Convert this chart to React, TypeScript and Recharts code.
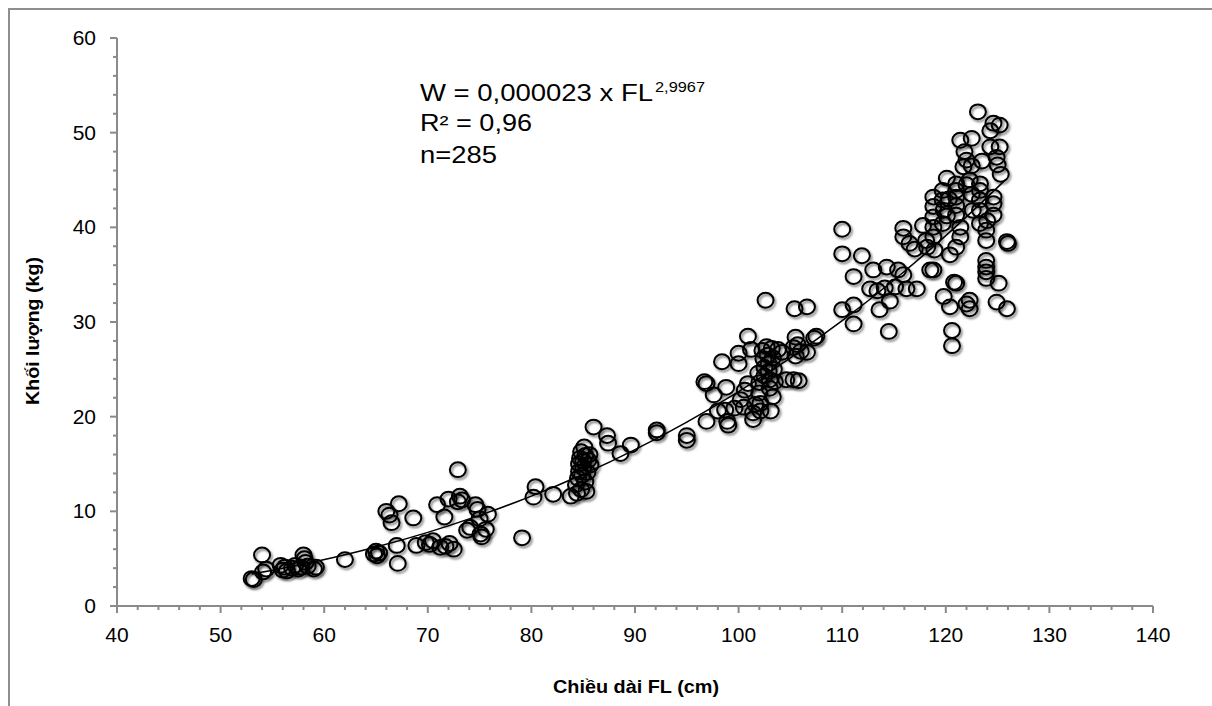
import { ComposedChart, Scatter, Line, XAxis, YAxis } from 'recharts'

// length FL (cm) and weight W (kg) of each fish
const FL = [
  53.0, 53.2, 54.0, 54.1, 54.4, 55.8, 56.0, 56.2, 56.4, 56.9, 57.2, 57.5, 57.8, 58.0, 58.1, 58.2, 58.4, 59.0, 59.2, 62.0,
  64.8, 65.0, 65.1, 65.3,
  66.0, 66.3, 66.5, 67.0, 67.1, 67.2, 68.6, 68.9, 69.8, 70.2, 70.5, 70.9, 71.2, 71.6, 71.7, 72.0, 72.1, 72.5, 72.9, 72.9,
  73.1, 73.3, 73.8, 74.1, 74.6, 74.8, 75.0, 75.1, 75.2, 75.6, 75.8, 79.1, 80.2, 80.4, 82.1,
  83.8, 84.3, 84.4, 84.5, 84.6, 84.6, 84.7, 84.8, 84.8, 84.9, 85.0, 85.0, 85.1, 85.2, 85.2, 85.3, 85.4, 85.5, 85.6, 85.7,
  86.0, 87.3, 87.4, 88.6, 89.6, 92.1, 92.1, 95.0, 95.0,
  96.7, 96.9, 96.9, 97.6, 98.0, 98.4, 98.8, 98.7, 98.9, 99.0, 99.6, 100.0, 100.0, 100.2, 100.5, 100.6, 100.9, 100.9,
  101.2, 101.4, 101.4, 101.6, 101.9, 102.0, 102.0, 102.1, 102.1, 102.3, 102.4, 102.5, 102.5, 102.6, 102.7, 102.8, 102.9,
  102.9, 103.0, 103.0, 103.1, 103.2, 103.3, 103.4, 103.5, 103.3, 103.8, 104.2, 104.6, 105.3, 105.8, 105.3, 105.5, 105.7,
  106.0, 106.6, 105.4, 106.6, 105.5, 107.3, 107.5,
  110.0, 110.0, 111.1, 111.9, 113.0, 114.3, 112.7, 113.4, 114.1, 115.4, 115.9, 115.1, 116.2, 117.2, 114.6, 113.6, 110.0,
  111.1, 111.1, 114.5, 115.9, 115.9, 116.5, 117.8, 118.1, 117.0, 118.2, 118.5,
  118.8, 118.8, 118.8, 118.8, 118.8, 118.9, 118.8, 119.7, 119.7, 119.8, 119.7, 120.1, 120.4, 120.8, 119.8, 120.4, 120.6,
  120.6, 121.0, 121.0, 121.0, 121.0, 121.0, 121.0, 121.0, 121.4, 121.4, 121.4, 121.7, 121.8, 122.0, 122.0, 122.3, 122.3,
  122.5, 122.3, 122.5, 122.6, 123.1, 123.3, 123.3, 123.3, 123.3, 123.3, 123.5, 123.9, 123.9, 123.9, 123.9, 123.9, 123.9,
  124.3, 124.3, 124.6, 124.6, 124.6, 124.9, 125.0, 124.9, 125.1, 125.2, 125.2, 125.3, 125.9, 126.0, 125.9, 120.1, 120.3,
  122.0, 122.5, 124.0, 124.6,
]
const W = [
  2.9, 2.8, 5.4, 3.6, 3.9, 4.3, 3.8, 4.1, 3.7, 4.0, 4.3, 3.9, 4.1, 5.4, 5.0, 4.6, 4.2, 3.9, 4.1, 4.9,
  5.5, 5.8, 5.3, 5.6,
  10.0, 9.6, 8.8, 6.4, 4.5, 10.8, 9.3, 6.4, 6.7, 6.5, 6.9, 10.7, 6.2, 9.4, 6.3, 11.3, 6.6, 6.0, 14.4, 11.0,
  11.6, 11.2, 8.0, 8.3, 10.7, 10.2, 9.2, 7.6, 7.3, 8.1, 9.7, 7.2, 11.5, 12.6, 11.8,
  11.6, 12.8, 11.9, 13.5, 14.2, 15.0, 15.6, 16.3, 12.3, 13.8, 14.6, 15.3, 16.8, 13.1, 15.9, 12.1, 14.1, 15.4, 16.0, 14.9,
  18.9, 18.0, 17.2, 16.1, 17.0, 18.6, 18.3, 18.0, 17.5,
  23.7, 23.5, 19.5, 22.3, 20.6, 25.8, 23.1, 20.7, 19.5, 19.1, 20.9, 26.7, 25.6, 21.8, 21.0, 22.8, 23.5, 28.5,
  27.1, 19.7, 20.4, 21.3, 24.6, 23.6, 22.5, 21.4, 20.6, 27.0, 26.1, 25.2, 24.3, 32.3, 27.4, 26.5, 25.6,
  24.8, 23.9, 23.0, 20.6, 27.2, 26.2, 25.0, 23.7, 22.1, 27.1, 26.8, 23.9, 23.9, 23.8, 27.3, 26.4, 27.6,
  26.9, 26.8, 31.4, 31.6, 28.4, 28.3, 28.5,
  39.8, 37.2, 34.8, 37.0, 35.5, 35.8, 33.5, 33.3, 33.6, 35.5, 35.0, 33.7, 33.5, 33.5, 32.2, 31.3, 31.3,
  31.8, 29.8, 29.0, 39.9, 39.0, 38.3, 40.2, 38.6, 37.7, 37.9, 35.5,
  43.2, 42.2, 41.1, 40.0, 39.0, 37.6, 35.5, 43.9, 42.9, 41.8, 40.4, 45.2, 37.1, 34.2, 32.7, 31.6, 29.1,
  27.5, 44.6, 43.9, 43.2, 42.3, 41.3, 37.9, 34.1, 49.2, 40.0, 39.0, 46.4, 48.0, 47.1, 31.9, 32.3, 31.4,
  49.4, 45.0, 43.5, 41.8, 52.2, 44.6, 43.9, 42.9, 41.8, 40.4, 47.0, 39.7, 38.6, 36.5, 35.8, 35.3, 34.6,
  50.2, 48.5, 51.0, 43.2, 42.5, 47.4, 46.6, 32.1, 34.1, 50.8, 48.5, 45.6, 38.5, 38.3, 31.4, 41.2, 43.0,
  44.5, 46.5, 40.7, 41.3,
]

// points along the power trend line
const TREND_FL = [53, 57, 61, 65, 70, 75, 80, 85, 90, 95, 100, 105, 110, 115, 120, 125.8]
const TREND_W = [3.38, 4.2, 5.15, 6.23, 7.78, 9.57, 11.61, 13.92, 16.52, 19.43, 22.65, 26.22, 30.14, 34.44, 39.12, 45.07]

const X_TICKS = Array.from({ length: 51 }, (_, i) => 40 + i * 2)
const Y_TICKS = Array.from({ length: 31 }, (_, i) => i * 2)

const AXIS = '#8a8a8a'
const FONT = '"Liberation Sans", Arial, sans-serif'

const points = FL.map((x, i) => ({ x, y: W[i] }))
const trend = TREND_FL.map((x, i) => ({ x, y: TREND_W[i] }))

function XTick({ x, y, payload }: any) {
  const v = payload.value as number
  const major = v % 10 === 0
  return (
    <g>
      <line x1={x} x2={x} y1={y} y2={y + (major ? 7 : 4)} stroke={AXIS} strokeWidth={2} />
      {major && (
        <text x={x} y={y + 36} textAnchor='middle' fontSize={21} fontFamily={FONT} fill='#000'>
          {v}
        </text>
      )}
    </g>
  )
}

function YTick({ x, y, payload }: any) {
  const v = payload.value as number
  const major = v % 10 === 0
  return (
    <g>
      <line x1={x - (major ? 7 : 4)} x2={x} y1={y} y2={y} stroke={AXIS} strokeWidth={2} />
      {major && (
        <text x={x - 21} y={y + 7} textAnchor='end' fontSize={21} fontFamily={FONT} fill='#000'>
          {v}
        </text>
      )}
    </g>
  )
}

function Ring(props: any) {
  const { cx, cy } = props
  if (cx == null || cy == null) return null
  return (
    <ellipse cx={cx} cy={cy} rx={8} ry={7.4} fill='none' stroke='#000' strokeWidth={2} filter='url(#ringShadow)' />
  )
}

export default function App() {
  return (
    <div
      style={{
        position: 'fixed',
        left: 8,
        top: 8,
        width: 1204,
        height: 698,
        borderTop: '2px solid #8e8e8e',
        borderLeft: '2px solid #8e8e8e',
        boxSizing: 'border-box',
        overflow: 'hidden',
        background: '#fff',
        fontFamily: FONT,
      }}
    >
      <svg width={0} height={0} style={{ position: 'absolute' }}>
        <defs>
          <filter id='ringShadow' x='-50%' y='-50%' width='200%' height='200%'>
            <feDropShadow dx={1.5} dy={2} stdDeviation={1.3} floodColor='#000' floodOpacity={0.55} />
          </filter>
        </defs>
      </svg>
      <ComposedChart width={1202} height={696} margin={{ top: 28, right: 59, bottom: 0, left: 0 }}>
        <XAxis
          type='number'
          dataKey='x'
          domain={[40, 140]}
          ticks={X_TICKS}
          interval={0}
          tick={<XTick />}
          tickLine={false}
          tickSize={0}
          tickMargin={0}
          height={100}
          axisLine={{ stroke: AXIS, strokeWidth: 2 }}
          allowDataOverflow
        />
        <YAxis
          type='number'
          domain={[0, 60]}
          ticks={Y_TICKS}
          interval={0}
          tick={<YTick />}
          tickLine={false}
          tickSize={0}
          tickMargin={0}
          width={107}
          axisLine={{ stroke: AXIS, strokeWidth: 2 }}
          allowDataOverflow
        />
        <Scatter data={points} dataKey='y' shape={<Ring />} isAnimationActive={false} />
        <Line
          data={trend}
          dataKey='y'
          type='monotone'
          stroke='#000'
          strokeWidth={1.5}
          dot={false}
          activeDot={false}
          isAnimationActive={false}
        />
      </ComposedChart>
      <svg
        width={1202}
        height={696}
        style={{ position: 'absolute', left: 0, top: 0, pointerEvents: 'none' }}
        fontFamily={FONT}
      >
        <text x={410} y={91} fontSize={23} textLength={233} lengthAdjust='spacingAndGlyphs'>
          W = 0,000023 x FL
        </text>
        <text x={645} y={82} fontSize={15} textLength={50} lengthAdjust='spacingAndGlyphs'>
          2,9967
        </text>
        <text x={410} y={121} fontSize={23} textLength={112} lengthAdjust='spacingAndGlyphs'>
          R² = 0,96
        </text>
        <text x={410} y={153} fontSize={23} textLength={77} lengthAdjust='spacingAndGlyphs'>
          n=285
        </text>
        <text
          x={626}
          y={683}
          textAnchor='middle'
          fontSize={18}
          fontWeight='bold'
          textLength={166}
          lengthAdjust='spacingAndGlyphs'
        >
          Chiều dài FL (cm)
        </text>
        <text
          x={0}
          y={0}
          transform='translate(29,321) rotate(-90)'
          textAnchor='middle'
          fontSize={18}
          fontWeight='bold'
          textLength={148}
          lengthAdjust='spacingAndGlyphs'
        >
          Khối lượng (kg)
        </text>
      </svg>
    </div>
  )
}
